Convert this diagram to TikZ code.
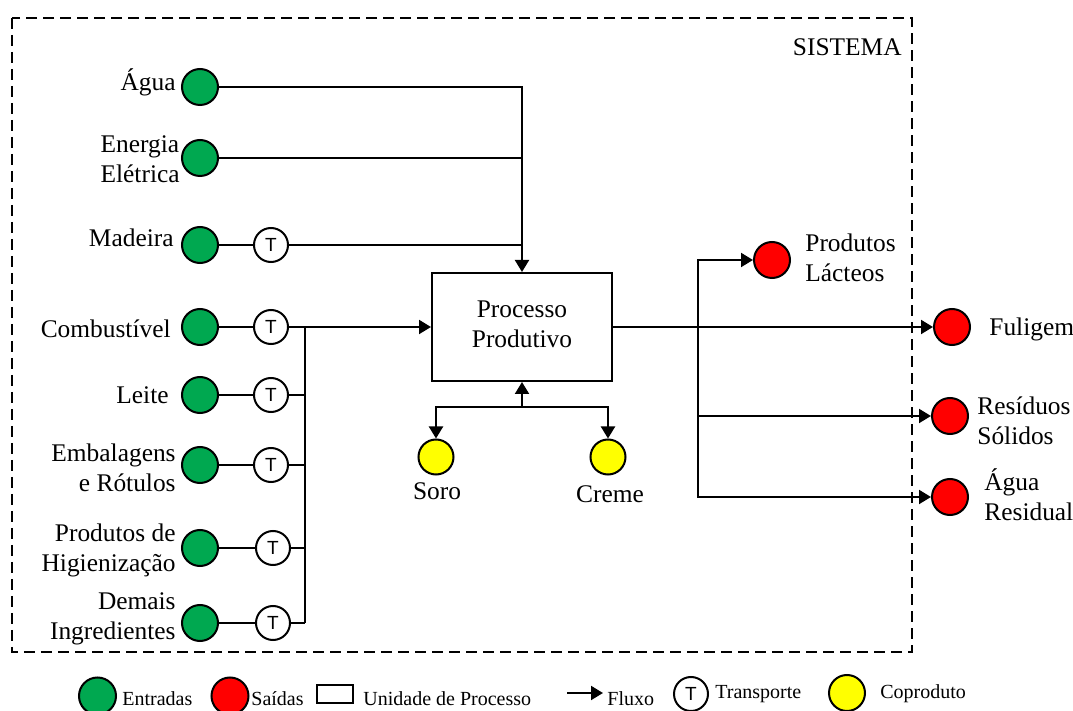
\documentclass[tikz,border=0pt]{standalone}
\usepackage{fontspec}
\setmainfont{Liberation Serif}
\newfontfamily\tsans{Liberation Sans}
\usetikzlibrary{arrows.meta}
\definecolor{inGreen}{RGB}{0,168,80}
\definecolor{outRed}{RGB}{255,0,0}
\definecolor{coYellow}{RGB}{255,255,0}
\begin{document}
\begin{tikzpicture}[x=0.5pt,y=-0.5pt,
  dot/.style={circle, draw, line width=1pt, inner sep=0pt, minimum size=18pt},
  inp/.style={dot, fill=inGreen},
  outp/.style={dot, fill=outRed},
  cop/.style={dot, fill=coYellow, minimum size=17.5pt},
  trans/.style={dot, fill=white, minimum size=17pt, font=\tsans\fontsize{9.5}{9.5}\selectfont},
  lab/.style={inner sep=0pt, font=\fontsize{12.7}{15}\selectfont},
  leg/.style={inner sep=0pt, font=\fontsize{10}{12}\selectfont, anchor=base west},
  link/.style={line width=1pt},
  flow/.style={line width=1pt, -{Triangle[length=6pt,width=7pt]}},
  unit/.style={draw, line width=1pt, minimum width=90pt, minimum height=54pt, align=center, font=\fontsize{12.7}{15}\selectfont}
]
\useasboundingbox (0,0) rectangle (1073,711);
\clip (0,0) rectangle (1073,711);

% system boundary
\draw[line width=1pt, dash pattern=on 5.5pt off 3pt] (12,18) rectangle (912,652);
\node[lab, anchor=base east] (sis) at (902,56) {SISTEMA};

% process unit
\node[unit] (box) at (522,327) {Processo\strut\\Produtivo\strut};

% inputs
\node[inp] (agua) at (200,87) {};
\node[inp] (ener) at (200,158) {};
\node[inp] (made) at (200,245) {};
\node[inp] (comb) at (200,327) {};
\node[inp] (leit) at (200,395) {};
\node[inp] (emba) at (200,465) {};
\node[inp] (higi) at (200,548) {};
\node[inp] (dema) at (200,623) {};

\node[lab, anchor=east, align=right] at (176,84) {Água\strut};
\node[lab, anchor=east, align=left] at (180,162) {Energia\strut\\Elétrica\strut};
\node[lab, anchor=east, align=right] at (174,241) {Madeira\strut};
\node[lab, anchor=east, align=right] at (171,332) {Combustível\strut};
\node[lab, anchor=east, align=right] at (169,398) {Leite\strut};
\node[lab, anchor=east, align=right] at (176,471) {Embalagens\strut\\e Rótulos\strut};
\node[lab, anchor=east, align=right] at (176,551) {Produtos de\strut\\Higienização\strut};
\node[lab, anchor=east, align=right] at (176,619) {Demais\strut\\Ingredientes\strut};

% transport
\node[trans] (tMad) at (271,245) {T};
\node[trans] (tCom) at (271,327) {T};
\node[trans] (tLei) at (271,395) {T};
\node[trans] (tEmb) at (271,465) {T};
\node[trans] (tHig) at (273,548) {T};
\node[trans] (tDem) at (273,623) {T};

% upper feed
\draw[flow] (agua) -| (box.north);
\draw[link] (ener) -- (ener -| box.north);
\draw[link] (made) -- (tMad);
\draw[link] (tMad) -- (tMad -| box.north);

% lower feed with bus
\coordinate (bus) at (305,0);
\draw[link] (comb) -- (tCom);
\draw[link] (leit) -- (tLei);
\draw[link] (emba) -- (tEmb);
\draw[link] (higi) -- (tHig);
\draw[link] (dema) -- (tDem);
\draw[flow] (tCom) -- (tCom -| box.west);
\draw[link] (tLei) -- (tLei -| bus);
\draw[link] (tEmb) -- (tEmb -| bus);
\draw[link] (tHig) -- (tHig -| bus);
\draw[link] (tDem) -- (tDem -| bus);
\draw[link] (tCom -| bus) -- (tDem -| bus);

% co-products
\node[cop] (soro) at (436,457) {};
\node[cop] (creme) at (608,457) {};
\node[lab, anchor=base] at (437,500) {Soro};
\node[lab, anchor=base] at (610,503) {Creme};
\coordinate (jb) at (522,407);
\draw[flow] (jb) -- (box.south);
\draw[flow] (jb) -| (soro);
\draw[flow] (jb) -| (creme);

% outputs
\node[outp] (lact) at (772,260) {};
\node[outp] (fuli) at (952,327) {};
\node[outp] (resi) at (950,416) {};
\node[outp] (ares) at (950,497) {};
\node[lab, anchor=west, align=left] at (805,261) {Produtos\strut\\Lácteos\strut};
\node[lab, anchor=west, align=left] at (989,330) {Fuligem\strut};
\node[lab, anchor=west, align=left] at (977,424) {Resíduos\strut\\Sólidos\strut};
\node[lab, anchor=west, align=left] at (984,499) {Água\strut\\Residual\strut};
\coordinate (jr) at (698,327);
\draw[flow] (box.east) -- (fuli);
\draw[flow] (jr) |- (lact);
\draw[flow] (jr) |- (resi);
\draw[flow] (jr) |- (ares);

% legend
\node[inp, minimum size=18.5pt] (lgIn) at (97.5,696) {};
\node[leg] (lgInT) at (122,705) {Entradas};
\node[outp, minimum size=18.5pt] (lgOut) at (230,696) {};
\node[leg] (lgOutT) at (251,705) {Saídas};
\node[draw, line width=1pt, minimum width=18pt, minimum height=9pt, inner sep=0pt] (lgBox) at (335,694) {};
\node[leg] (lgBoxT) at (363,705) {Unidade de Processo};
\coordinate (fxa) at (567,693);
\coordinate (fxb) at (603,693);
\draw[flow] (fxa) -- (fxb);
\node[leg] (lgFx) at (607,705) {Fluxo};
\node[trans] (lgT) at (691,694) {T};
\node[leg] (lgTT) at (715,699) {Transporte};
\node[cop, minimum size=18pt] (lgCo) at (847,693) {};
\node[leg] (lgCoT) at (880,699) {Coproduto};
\end{tikzpicture}
\end{document}
